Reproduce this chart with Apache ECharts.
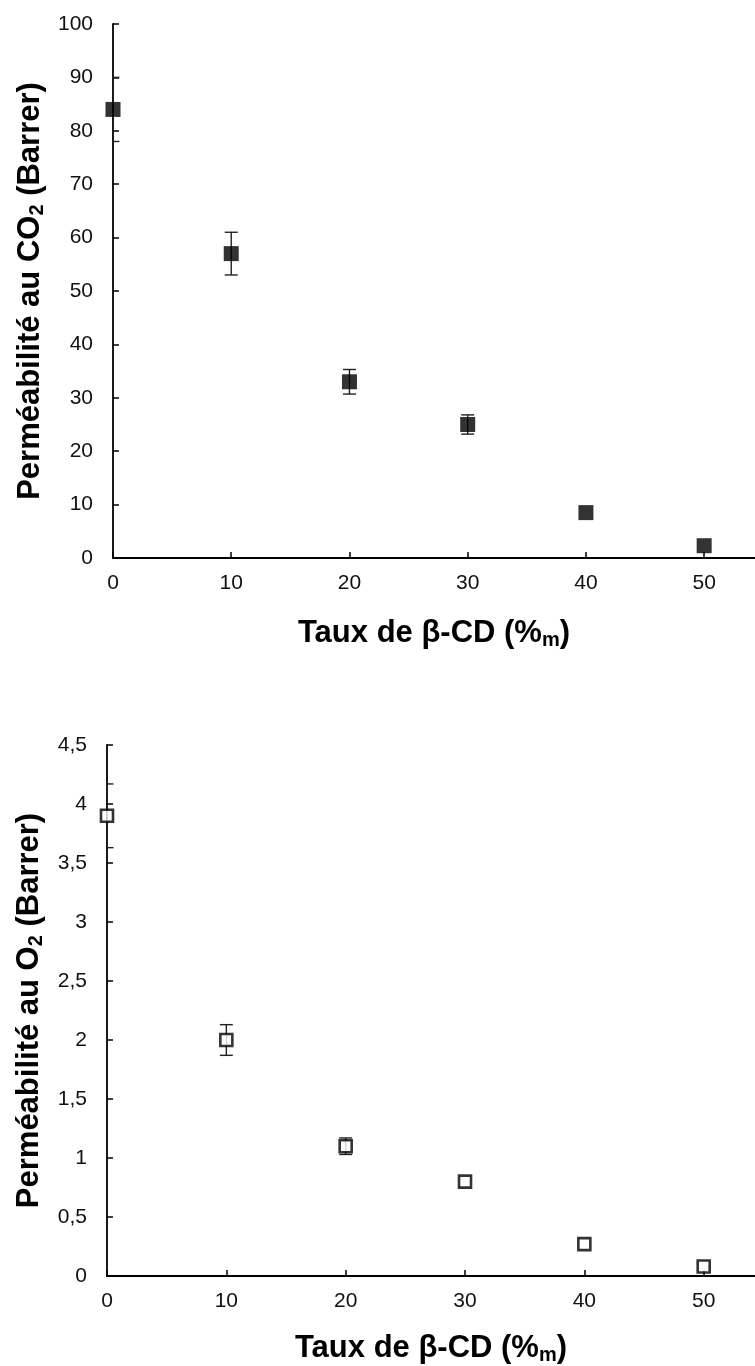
<!DOCTYPE html>
<html><head><meta charset="utf-8">
<script src="https://cdn.jsdelivr.net/npm/echarts@6/dist/echarts.min.js"></script>
<style>html,body{margin:0;padding:0;background:#fff}#c{width:755px;height:1366px}</style>
</head><body><div id="c"></div>
<script>
const taux = [0, 10, 20, 30, 40, 50];
const co2 = [84, 57, 33, 25, 8.5, 2.3];
const co2Err = [6, 4, 2.3, 1.8, 0, 0];
const o2 = [3.9, 2.0, 1.1, 0.8, 0.27, 0.08];
const o2Err = [0.27, 0.13, 0.07, 0, 0, 0];
const co2Ticks = [0, 10, 20, 30, 40, 50, 60, 70, 80, 90, 100];
const o2Ticks = ['0', '0,5', '1', '1,5', '2', '2,5', '3', '3,5', '4', '4,5'];

const FONT = 'Liberation Sans, Arial, sans-serif';
const chart = echarts.init(document.getElementById('c'));

function errItem(params, api) {
  const x = api.value(0), lo = api.value(1), hi = api.value(2);
  const p1 = api.coord([x, lo]), p2 = api.coord([x, hi]);
  const w = 6.5;
  const st = { stroke: '#222', lineWidth: 1.4 };
  return { type: 'group', children: [
    { type: 'line', shape: { x1: p1[0], y1: p1[1], x2: p2[0], y2: p2[1] }, style: st },
    { type: 'line', shape: { x1: p1[0] - w, y1: p1[1], x2: p1[0] + w, y2: p1[1] }, style: st },
    { type: 'line', shape: { x1: p2[0] - w, y1: p2[1], x2: p2[0] + w, y2: p2[1] }, style: st }
  ]};
}

const axisLine = { lineStyle: { color: '#000', width: 1.8 } };
const axisTick = { inside: true, length: 6, lineStyle: { color: '#000', width: 1.5 } };
const lbl = { color: '#111', fontSize: 21, fontFamily: FONT };
const subRich = { sub: { fontSize: 20, fontWeight: 'bold', fontFamily: FONT, color: '#000', verticalAlign: 'bottom', padding: [14, 0, 0, 0] } };
const nameStyle = { color: '#000', fontSize: 31, fontWeight: 'bold', fontFamily: FONT, rich: subRich };

function xAxis(gi, gap) {
  return {
    type: 'value', gridIndex: gi, min: 0, max: 54.3, interval: 10,
    axisLine, axisTick, splitLine: { show: false },
    axisLabel: Object.assign({ margin: 15, showMaxLabel: false }, lbl),
    name: 'Taux de β-CD (%{sub|m})', nameLocation: 'middle', nameGap: gap,
    nameTextStyle: nameStyle
  };
}

chart.setOption({
  animation: false,
  grid: [
    { left: 113, top: 24, right: 0, height: 534 },
    { left: 107, top: 745, right: 0, height: 534 }
  ],
  xAxis: [xAxis(0, 58), xAxis(1, 55)],
  yAxis: [
    { type: 'value', gridIndex: 0, min: co2Ticks[0], max: co2Ticks[co2Ticks.length - 1], interval: 10,
      axisLine: Object.assign({ show: true }, axisLine), axisTick, splitLine: { show: false },
      axisLabel: Object.assign({ margin: 20 }, lbl),
      name: 'Perméabilité au CO{sub|2} (Barrer)', nameLocation: 'middle', nameGap: 65,
      nameTextStyle: nameStyle
    },
    { type: 'value', gridIndex: 1, min: 0, max: 4.5, interval: 0.5,
      axisLine: Object.assign({ show: true }, axisLine), axisTick, splitLine: { show: false },
      axisLabel: Object.assign({ margin: 20, formatter: (v) => o2Ticks[Math.round(v * 2)] }, lbl),
      name: 'Perméabilité au O{sub|2} (Barrer)', nameLocation: 'middle', nameGap: 59,
      nameTextStyle: nameStyle
    }
  ],
  series: [
    { type: 'custom', xAxisIndex: 0, yAxisIndex: 0, renderItem: errItem, z: 2, clip: true,
      data: taux.map((t, i) => [t, co2[i] - co2Err[i], co2[i] + co2Err[i]]).filter((d, i) => co2Err[i] > 0) },
    { type: 'scatter', xAxisIndex: 0, yAxisIndex: 0, symbol: 'rect', symbolSize: 15, z: 3,
      itemStyle: { color: '#000', borderRadius: 2 },
      data: taux.map((t, i) => [t, co2[i]]) },
    { type: 'custom', xAxisIndex: 1, yAxisIndex: 1, renderItem: errItem, z: 2, clip: true,
      data: taux.map((t, i) => [t, o2[i] - o2Err[i], o2[i] + o2Err[i]]).filter((d, i) => o2Err[i] > 0) },
    { type: 'scatter', xAxisIndex: 1, yAxisIndex: 1, symbol: 'rect', symbolSize: 12, z: 3,
      itemStyle: { color: '#fff', borderColor: '#000', borderWidth: 2.6 },
      data: taux.map((t, i) => [t, o2[i]]) }
  ]
});
</script></body></html>
